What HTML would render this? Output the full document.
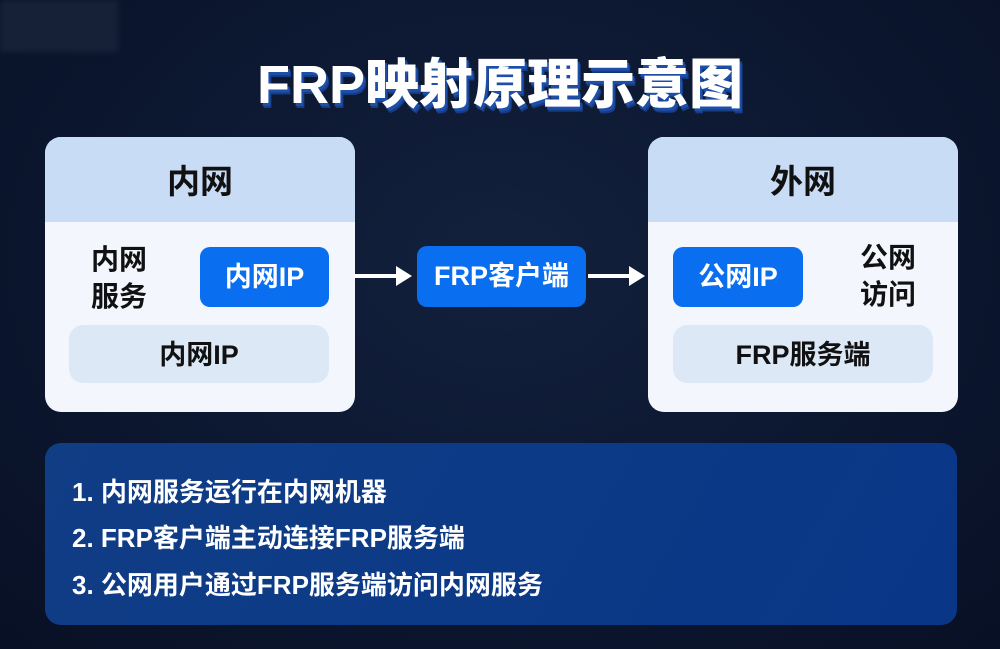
<!DOCTYPE html>
<html><head><meta charset="utf-8"><style>
*{margin:0;padding:0;box-sizing:border-box}
body{width:1000px;height:649px;overflow:hidden;background:radial-gradient(ellipse at 50% 40%,#13213d 0%,#0c1730 55%,#081025 100%);font-family:"Liberation Sans","Noto Sans CJK SC",sans-serif;font-weight:bold;position:relative}
.a{position:absolute}
.blur{left:0;top:0;width:118px;height:52px;background:#1e2a40;opacity:.6;filter:blur(3px)}
.title{left:0;width:1000px;top:40px;text-align:center;font-size:54px;color:#fff;font-weight:900;text-shadow:2px 3px 0 #1d4fa8,3px 5px 0 #173c86;letter-spacing:0px}
.box{width:310px;height:275px;top:137px;border-radius:16px;background:#f3f7fd;overflow:hidden}
.hd{left:0;top:0;width:100%;height:85px;background:#c9dcf5;font-size:33px;color:#111;text-align:center;line-height:90px}
.blue{background:#0a6ef0;color:#fff;border-radius:10px;font-size:27px;text-align:center;line-height:60px;height:60px}
.lt{background:#dde8f7;border-radius:14px;height:58px;line-height:60px;font-size:27px;color:#111;text-align:center;width:260px}
.dk{color:#111;font-size:28px;line-height:37px}
.arrow{height:4px;background:#fff}
.ah{width:0;height:0;border-top:10px solid transparent;border-bottom:10px solid transparent;border-left:16px solid #fff}
.panel{left:45px;top:443px;width:912px;height:182px;border-radius:16px;background:linear-gradient(120deg,#113d85,#0c3a86 50%,#0a3687)}
.ln{left:72px;color:#fff;font-size:26px}
</style></head><body>
<div class="a blur"></div>
<div class="a title">FRP映射原理示意图</div>

<div class="a box" style="left:45px">
 <div class="a hd">内网</div>
 <div class="a dk" style="left:46px;top:104px">内网<br>服务</div>
 <div class="a blue" style="left:155px;top:110px;width:129px">内网IP</div>
 <div class="a lt" style="left:24px;top:188px">内网IP</div>
</div>

<div class="a arrow" style="left:355px;top:274px;width:42px"></div>
<div class="a ah" style="left:396px;top:266px"></div>
<div class="a blue" style="left:417px;top:246px;width:169px;height:61px">FRP客户端</div>
<div class="a arrow" style="left:588px;top:274px;width:42px"></div>
<div class="a ah" style="left:629px;top:266px"></div>

<div class="a box" style="left:648px">
 <div class="a hd">外网</div>
 <div class="a blue" style="left:25px;top:110px;width:130px">公网IP</div>
 <div class="a dk" style="left:212px;top:102px">公网<br>访问</div>
 <div class="a lt" style="left:25px;top:188px">FRP服务端</div>
</div>

<div class="a panel"></div>
<div class="a ln" style="top:472px">1. 内网服务运行在内网机器</div>
<div class="a ln" style="top:518px">2. FRP客户端主动连接FRP服务端</div>
<div class="a ln" style="top:565px">3. 公网用户通过FRP服务端访问内网服务</div>
</body></html>
